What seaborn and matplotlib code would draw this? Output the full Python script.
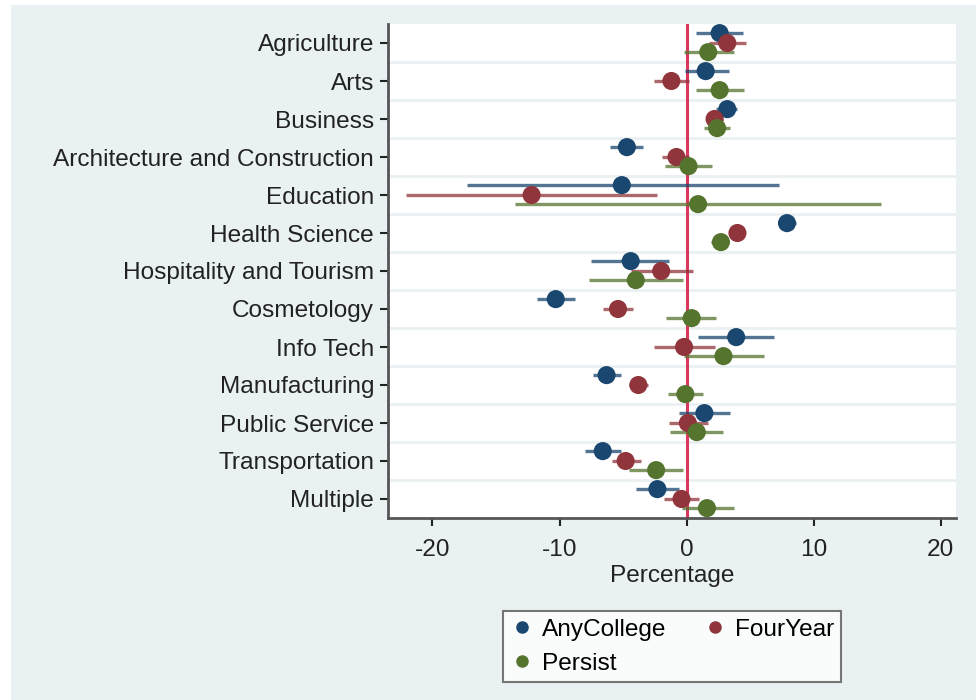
import numpy as np
import pandas as pd
import matplotlib
matplotlib.use("Agg")
import matplotlib.pyplot as plt
import seaborn as sns
from matplotlib.lines import Line2D

categories = ["Agriculture", "Arts", "Business", "Architecture and Construction",
              "Education", "Health Science", "Hospitality and Tourism", "Cosmetology",
              "Info Tech", "Manufacturing", "Public Service", "Transportation", "Multiple"]

series = ["AnyCollege", "FourYear", "Persist"]

any_est = [2.6, 1.5, 3.2, -4.7, -5.1, 7.9, -4.4, -10.3, 3.9, -6.3, 1.4, -6.6, -2.3]
any_lo = [0.7, -0.1, 2.3, -6.0, -17.3, 7.3, -7.5, -11.8, 0.9, -7.4, -0.6, -8.0, -4.0]
any_hi = [4.4, 3.3, 4.0, -3.4, 7.3, 8.6, -1.4, -8.8, 6.9, -5.2, 3.4, -5.2, -0.6]

four_est = [3.2, -1.2, 2.2, -0.8, -12.2, 4.0, -2.0, -5.4, -0.2, -3.8, 0.1, -4.8, -0.4]
four_lo = [1.8, -2.6, 1.5, -1.9, -22.1, 3.6, -4.4, -6.6, -2.6, -4.5, -1.4, -5.9, -1.8]
four_hi = [4.7, 0.2, 2.9, 0.2, -2.3, 4.5, 0.5, -4.2, 2.2, -3.0, 1.7, -3.6, 1.0]

persist_est = [1.7, 2.6, 2.4, 0.15, 0.9, 2.7, -4.0, 0.4, 2.9, -0.1, 0.8, -2.4, 1.6]
persist_lo = [-0.2, 0.7, 1.4, -1.7, -13.5, 1.9, -7.7, -1.6, -0.2, -1.5, -1.3, -4.5, -0.4]
persist_hi = [3.7, 4.5, 3.4, 2.0, 15.3, 3.3, -0.3, 2.3, 6.1, 1.3, 2.9, -0.3, 3.7]

colors = {"AnyCollege": "#1a476f", "FourYear": "#90353b", "Persist": "#55752f"}
offsets = {"AnyCollege": -0.26, "FourYear": 0.0, "Persist": 0.24}

frames = []
for name, est, lo, hi in [("AnyCollege", any_est, any_lo, any_hi),
                          ("FourYear", four_est, four_lo, four_hi),
                          ("Persist", persist_est, persist_lo, persist_hi)]:
    frames.append(pd.DataFrame({
        "category": categories, "series": name,
        "est": est, "lo": lo, "hi": hi,
        "pos": np.arange(len(categories)) + offsets[name],
    }))
df = pd.concat(frames, ignore_index=True)

bg = "#eaf1f3"
plt.rcParams["font.family"] = ["Liberation Sans", "DejaVu Sans"]
plt.rcParams["axes.unicode_minus"] = False
fs = 17.6

fig = plt.figure(figsize=(9.8, 7.0), dpi=100, facecolor="white")
# shaded graph region behind the axes
fig.patches.append(plt.Rectangle((11 / 980, 0), 1 - 11 / 980 - 4 / 980, 1 - 5 / 700,
                                 transform=fig.transFigure, facecolor=bg,
                                 edgecolor="none", zorder=-10))
ax = fig.add_axes([388 / 980, 1 - 518 / 700, (956 - 388) / 980, (518 - 24) / 700])
ax.set_facecolor("white")

# horizontal grid between categories
for b in np.arange(0.5, len(categories) - 0.5, 1.0):
    ax.axhline(b, color="#eaf0f2", lw=2, zorder=0)

ax.axvline(0, color="#d7385c", lw=2.2, zorder=1)

for name in series:
    sub = df[df["series"] == name]
    ax.hlines(sub["pos"], sub["lo"], sub["hi"], color=colors[name], lw=2.4,
              alpha=0.75, zorder=2)

sns.scatterplot(data=df, x="est", y="pos", hue="series", palette=colors,
                hue_order=series, s=170, edgecolor="none", linewidth=0,
                legend=False, ax=ax, zorder=3)

ax.set_xlim(-23.5, 21.2)
ax.set_ylim(len(categories) - 0.5, -0.5)
ax.set_xticks([-20, -10, 0, 10, 20])
ax.set_yticks(np.arange(len(categories)))
ax.set_yticklabels(categories)
ax.set_xlabel("Percentage", fontsize=fs, color="#222222", labelpad=3)
ax.set_ylabel("")
ax.tick_params(axis="both", labelsize=fs, colors="#222222", length=6, width=1.5,
               direction="out")
ax.tick_params(axis="x", pad=9)
ax.tick_params(axis="y", pad=4)
for side in ["top", "right"]:
    ax.spines[side].set_visible(False)
for side in ["left", "bottom"]:
    ax.spines[side].set_color("#555555")
    ax.spines[side].set_linewidth(2)

# legend entries filled row by row: AnyCollege, FourYear / Persist
leg_order = ["AnyCollege", "Persist", "FourYear"]
handles = [Line2D([], [], marker="o", ls="none", color=colors[n], markersize=8)
           for n in leg_order]
leg = fig.legend(handles, leg_order, loc="upper center", ncol=2,
                 bbox_to_anchor=(672 / 980, 1 - 599 / 700), frameon=True,
                 fancybox=False, fontsize=fs, handletextpad=0.3,
                 columnspacing=1.5, borderpad=0.3, labelspacing=0.5,
                 handlelength=1.0)
leg.get_frame().set_edgecolor("#555555")
leg.get_frame().set_linewidth(1.5)

fig.savefig("out.png", dpi=100, facecolor="white")
